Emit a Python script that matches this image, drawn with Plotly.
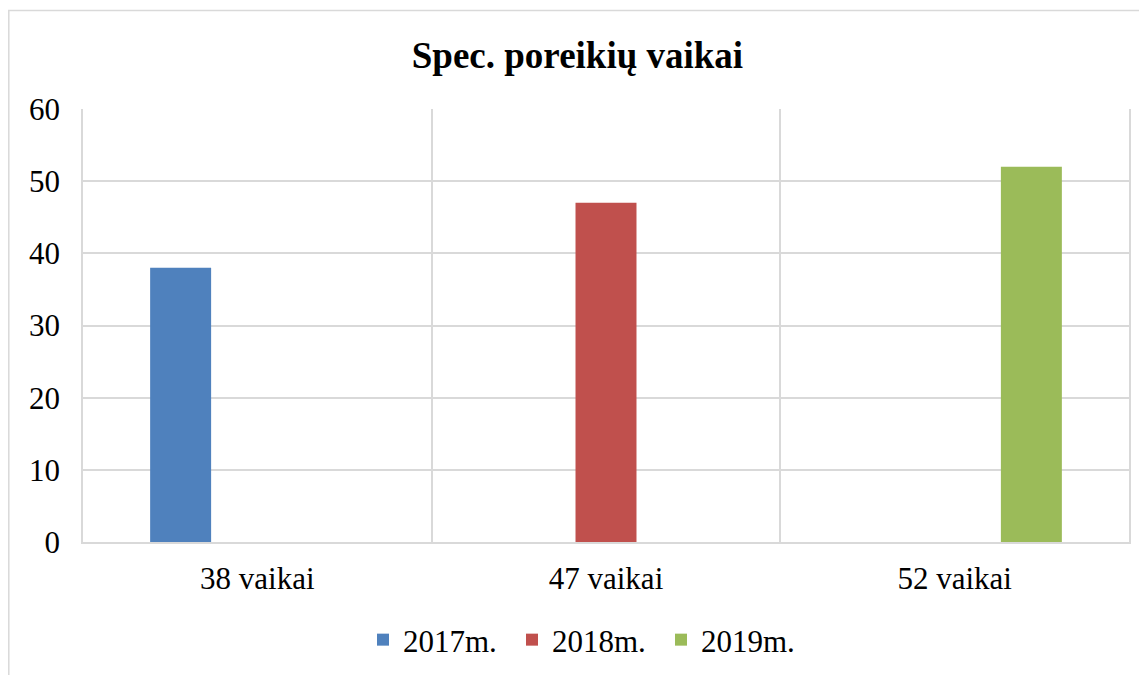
import plotly.graph_objects as go

categories = ["38 vaikai", "47 vaikai", "52 vaikai"]
series_names = ["2017m.", "2018m.", "2019m."]
values_2017 = [38, 0, 0]
values_2018 = [0, 47, 0]
values_2019 = [0, 0, 52]
colors = ["#4F81BD", "#C0504D", "#9BBB59"]

FONT = "Liberation Serif"

fig = go.Figure()
for name, vals, col in zip(series_names, [values_2017, values_2018, values_2019], colors):
    fig.add_trace(go.Bar(x=categories, y=vals, name=name, marker=dict(color=col, line=dict(width=0))))

# page body has an 8px margin, so figure coords = screenshot coords - 8
W, H = 1147, 675
L, R, T, B = 75, 25.5, 101, 141
pw, ph = W - L - R, H - T - B

def px_x(x):
    return (x - L) / pw

def px_y(y):
    return (H - B - y) / ph

fig.update_layout(
    width=W, height=H,
    margin=dict(l=L, r=R, t=T, b=B),
    paper_bgcolor="white", plot_bgcolor="white",
    barmode="group", bargap=0.34, bargroupgap=0.205,
    font=dict(family=FONT, size=31, color="black"),
    title=dict(text="<b>Spec. poreikių vaikai</b>", x=0.4965, xref="container", xanchor="center",
               y=0.930, yref="container", yanchor="middle",
               font=dict(family=FONT, size=37, color="black")),
    showlegend=True,
    legend=dict(orientation="h", x=0.3095, xref="container", xanchor="left",
                y=0.0637, yref="container", yanchor="middle",
                entrywidth=104, entrywidthmode="pixels",
                font=dict(family=FONT, size=31, color="black"),
                itemsizing="constant", traceorder="normal"),
    xaxis=dict(type="category", tickson="boundaries", showgrid=True, gridcolor="#d9d9d9", gridwidth=1.5,
               ticks="", showline=True, linecolor="#d9d9d9", linewidth=1.5,
               tickfont=dict(family=FONT, size=31, color="black"), ticklabelstandoff=8),
    yaxis=dict(range=[0, 60], dtick=10, showgrid=True, gridcolor="#d9d9d9", gridwidth=1.5,
               showline=True, mirror=True, linecolor="#d9d9d9", linewidth=1.5, zeroline=False,
               ticks="", tickfont=dict(family=FONT, size=31, color="black"), ticklabelstandoff=15),
    shapes=[dict(type="rect", xref="paper", yref="paper",
                 x0=px_x(0.75), x1=px_x(1200), y0=px_y(720), y1=px_y(2.5),
                 line=dict(color="#d9d9d9", width=1.5), fillcolor="rgba(0,0,0,0)", layer="below")],
)

fig.write_html("out.html")
